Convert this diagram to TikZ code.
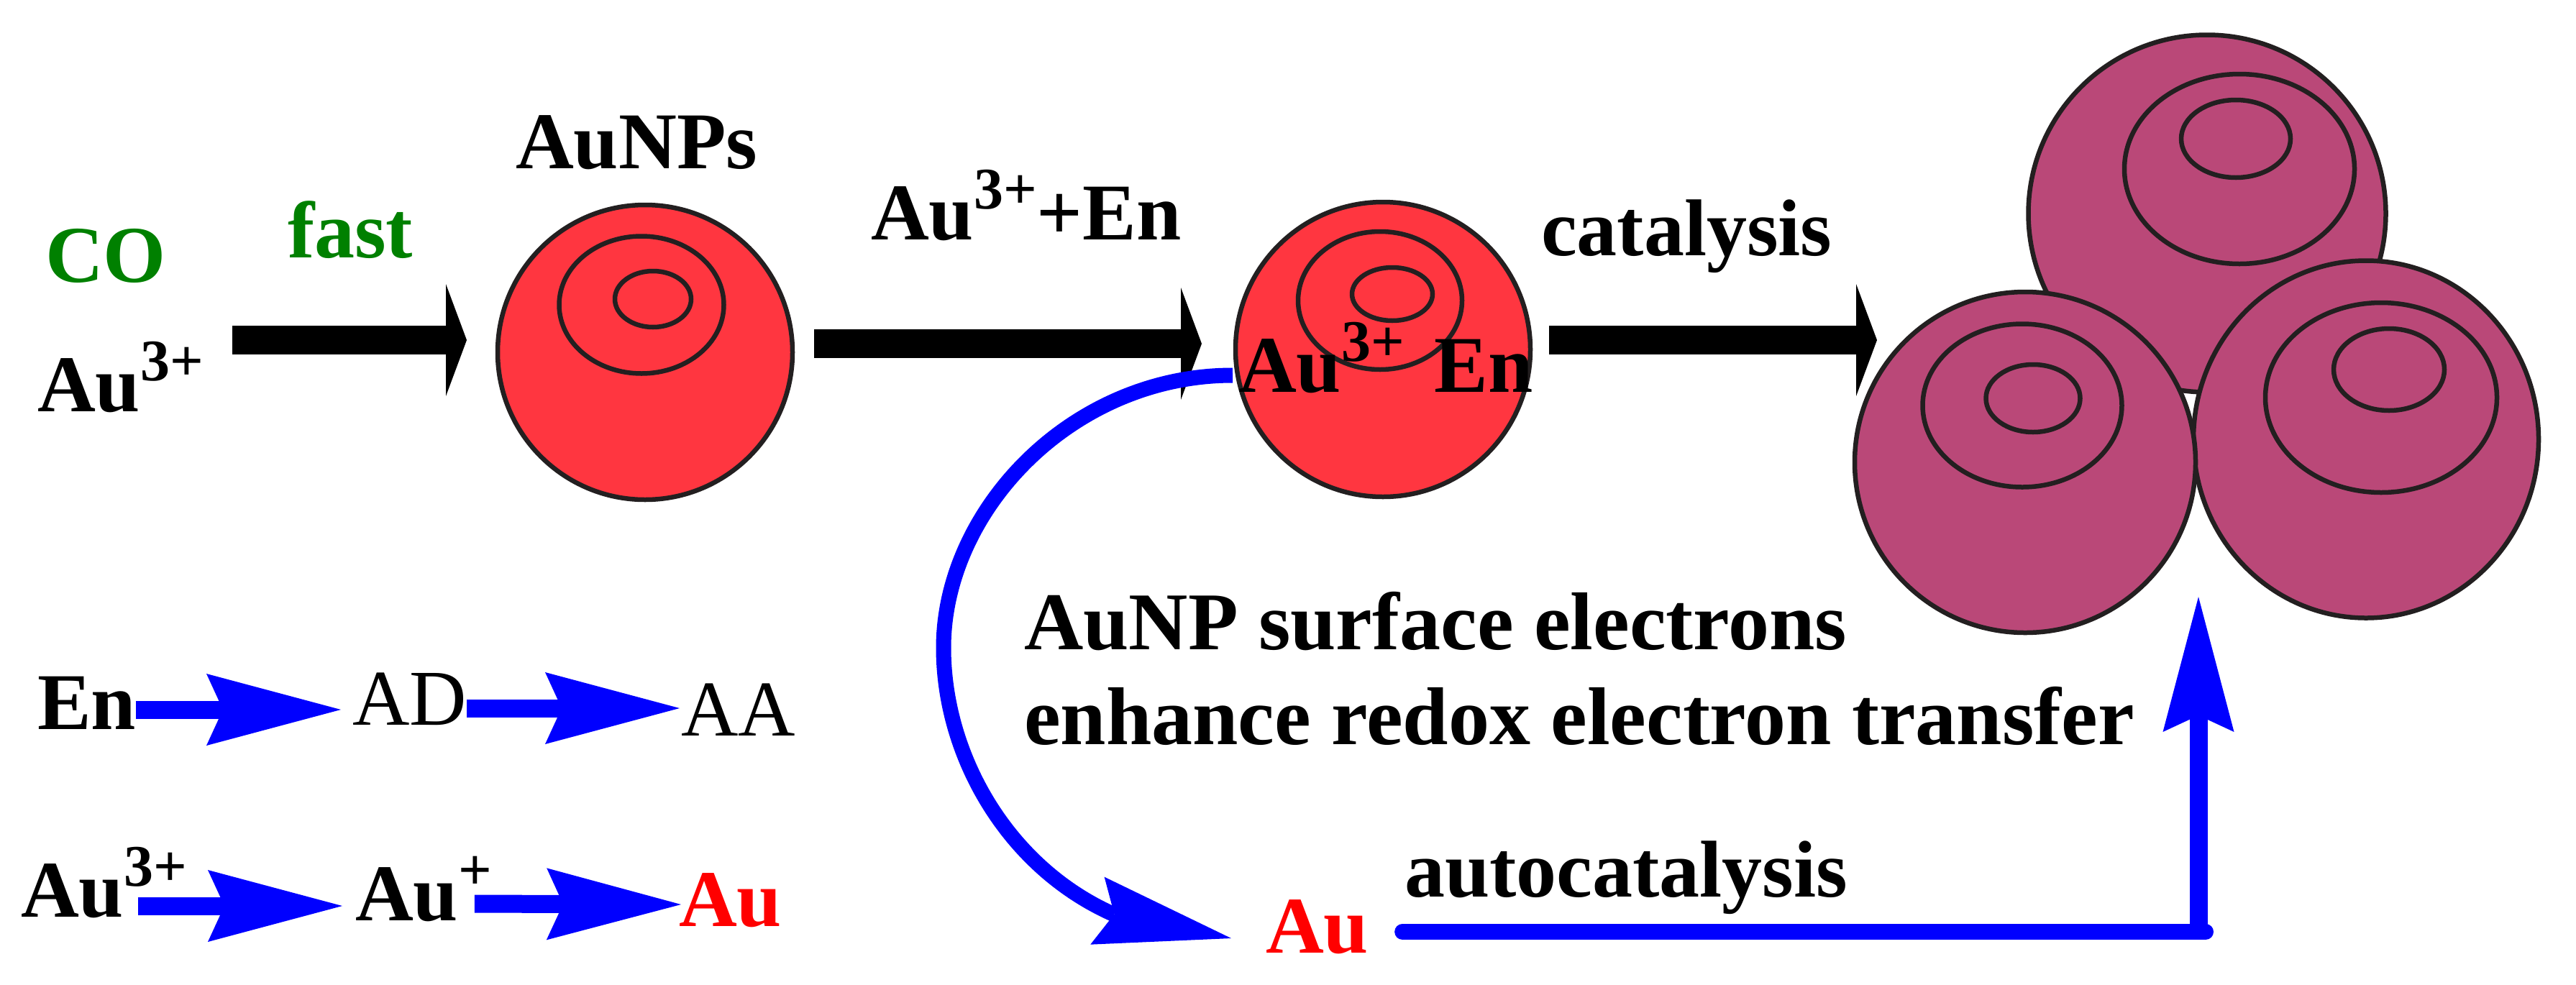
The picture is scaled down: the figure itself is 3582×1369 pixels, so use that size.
\documentclass[tikz,border=0pt]{standalone}
\usepackage{fontspec}
\setmainfont{Liberation Serif}
\usetikzlibrary{arrows.meta,shapes.geometric}
\definecolor{ballred}{HTML}{FF3640}
\definecolor{ballpurple}{HTML}{BA4878}
\definecolor{edgedark}{HTML}{231F20}
\definecolor{arrowblue}{HTML}{0000FF}
\definecolor{labelgreen}{HTML}{008000}
\newcommand{\supr}[1]{\raisebox{43pt}{\fontsize{82}{82}\selectfont #1}}
\tikzset{
  lbl/.style={anchor=base west,inner sep=0pt,outer sep=0pt,text height=74pt,text depth=0pt,
    font=\fontsize{112}{120}\selectfont\bfseries},
  lblwide/.style={lbl,font=\fontsize{114}{120}\selectfont\bfseries},
  lblreg/.style={lbl,font=\fontsize{110}{120}\selectfont},
  ball/.style={circle,draw=edgedark,line width=6.5pt,inner sep=0pt,outer sep=0pt},
  redball/.style={ball,fill=ballred,minimum size=410pt},
  purpleball/.style={ball,fill=ballpurple},
  ring/.style={ellipse,draw=edgedark,line width=6.5pt,inner sep=0pt,outer sep=0pt},
  fatarrow/.style={line width=40pt,black,-{Triangle[length=29pt,width=156pt,line width=0pt]}},
  smallarrow/.style={line width=25pt,arrowblue,-{Stealth[length=187pt,width=100pt,inset=23pt,line width=0pt]}},
  bluecurve/.style={line width=21pt,arrowblue,-{Stealth[length=190pt,width=96pt,inset=24pt,line width=0pt]}},
  bluerise/.style={line width=25pt,arrowblue,-{Stealth[length=188pt,width=99pt,inset=23pt,line width=0pt]}},
  blueline/.style={line width=22pt,arrowblue,line cap=round},
}
\begin{document}
\begin{tikzpicture}[x=1pt,y=-1pt]
\useasboundingbox (0,0) rectangle (3582,1369);
% particles
\node[redball] (ballA) at (897,490) {};
\node[ring,minimum width=229pt,minimum height=191pt] (ringA1) at (892,424) {};
\node[ring,minimum width=106pt,minimum height=78pt] (ringA2) at (908,416) {};
\node[redball] (ballB) at (1923,486) {};
\node[ring,minimum width=228pt,minimum height=192pt] (ringB1) at (1919,418) {};
\node[ring,minimum width=112pt,minimum height=74pt] (ringB2) at (1936,409) {};
\node[purpleball,minimum size=497pt] (ballT) at (3069,297) {};
\node[ring,minimum width=320pt,minimum height=264pt] (ringT1) at (3114,235) {};
\node[ring,minimum width=152pt,minimum height=108pt] (ringT2) at (3109,193) {};
\node[purpleball,shape=ellipse,minimum width=480pt,minimum height=497pt] (ballR) at (3290,611) {};
\node[ring,minimum width=322pt,minimum height=264pt] (ringR1) at (3311,553) {};
\node[ring,minimum width=154pt,minimum height=114pt] (ringR2) at (3322,514) {};
\node[purpleball,minimum size=474pt] (ballL) at (2816,643) {};
\node[ring,minimum width=277pt,minimum height=227pt] (ringL1) at (2812,564) {};
\node[ring,minimum width=131pt,minimum height=94pt] (ringL2) at (2827,554) {};
% labels
\node[lbl] (aunps) at (717,234) {AuNPs};
\node[lbl,text=labelgreen] (co) at (63,392) {CO};
\node[lbl,text=labelgreen] (fast) at (400,358) {fast};
\node[lbl] (au3a) at (52,572) {Au\supr{3+}};
\node[lbl] (au3en) at (1211,333) {Au\supr{3+}+En};
\node[lbl] (cat) at (2143,355) {catalysis};
\node[lblwide] (surf1) at (1424,903) {AuNP surface electrons};
\node[lblwide] (surf2) at (1424,1035) {enhance redox electron transfer};
\node[lbl] (auto) at (1953,1247) {autocatalysis};
\node[lbl] (en) at (52,1014) {En};
\node[lblreg] (ad) at (490,1008) {AD};
\node[lblreg] (aa) at (947,1023) {AA};
\node[lbl] (au3b) at (29,1275) {Au\supr{3+}};
\node[lbl] (aup) at (494,1280) {Au\supr{+}};
\node[lbl,text=red] (auredA) at (944,1288) {Au};
\node[lbl,text=red] (auredB) at (1760,1325) {Au};
% black arrows
\draw[fatarrow] ([xshift=40pt,yshift=62pt]au3a.east) -- ([xshift=-43pt,yshift=17pt]ballA.west);
\draw[fatarrow] ([xshift=30pt,yshift=12pt]ballA.east) -- ([xshift=-47pt,yshift=8pt]ballB.west);
\draw[fatarrow] ([xshift=26pt,yshift=13pt]ballB.east) -- ([xshift=31pt,yshift=170pt]ballL.west);
% blue reaction arrows
\draw[smallarrow] ([yshift=-10pt]en.east) -- ([xshift=-16pt,yshift=-16pt]ad.west);
\draw[smallarrow] ([yshift=-14pt]ad.east) -- ([xshift=-2pt,yshift=1pt]aa.west);
\draw[smallarrow] ([xshift=-68pt,yshift=-22pt]au3b.east) -- ([xshift=-18pt,yshift=-17pt]aup.west);
\draw[smallarrow] ([xshift=-24pt,yshift=-14pt]aup.east) -- ([xshift=3pt,yshift=-7pt]auredA.west);
% blue curve
\draw[bluecurve] ([xshift=-4pt,yshift=-36pt]ballB.west)
  .. controls (1490,522) and (1312,710) .. (1312,901)
  .. controls (1312,1050) and (1400,1205) .. (1547,1271)
  -- ([xshift=-48pt,yshift=-17pt]auredB.west);
% autocatalysis path
\coordinate (corner) at (3057,1296);
\coordinate (riseTip) at (3057,830);
\draw[blueline] ([xshift=47pt,yshift=-8pt]auredB.east) -- ([xshift=10pt]corner);
\draw[bluerise] (corner) -- (riseTip);
% text on the second particle
\node[lbl] (surfAu) at (1722,545) {Au\supr{3+}\hspace{42pt}En};
\end{tikzpicture}
\end{document}
